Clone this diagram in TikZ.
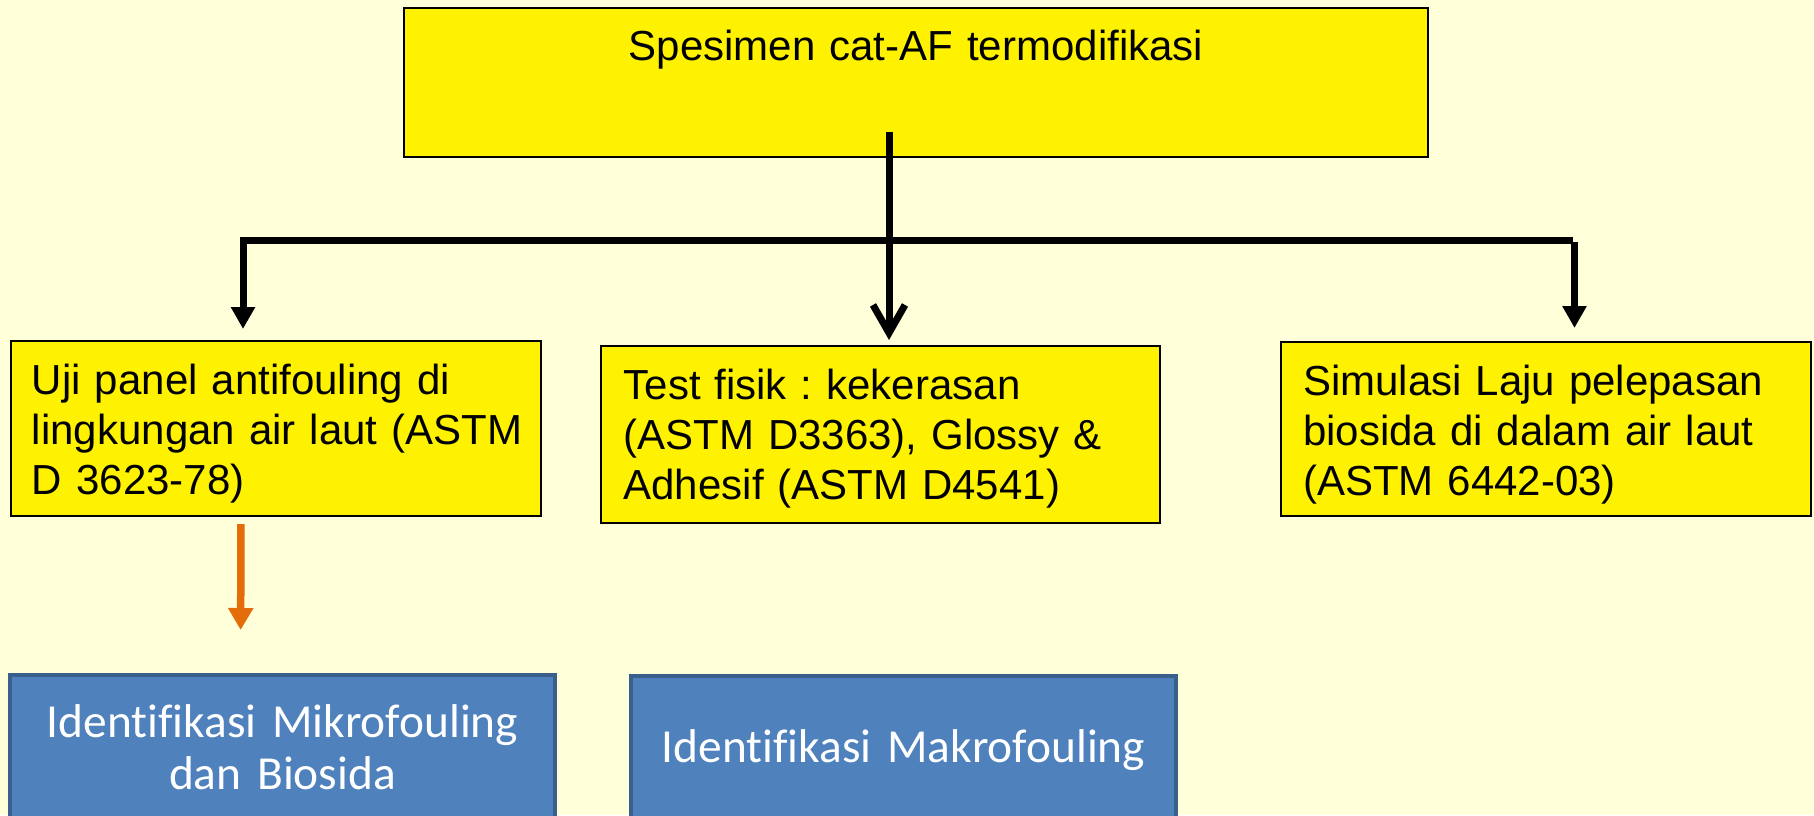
\documentclass[tikz,border=0pt]{standalone}
\usepackage{fontspec}
\setmainfont{Liberation Sans}[Ligatures=NoCommon]
\newfontfamily\calibrifont{Carlito}[Ligatures=NoCommon]
\usetikzlibrary{arrows.meta}
\frenchspacing

\definecolor{bgyellow}{HTML}{FFFFDA}
\definecolor{boxblue}{HTML}{4F81BD}
\definecolor{edgeblue}{HTML}{3A5F8B}
\definecolor{arroworange}{HTML}{E46C0A}

\begin{document}
\begin{tikzpicture}[x=0.5pt,y=-0.5pt,
	ybox/.style={draw=black,line width=1pt,fill=yellow,anchor=north west,align=left,
		font=\fontsize{21}{25}\selectfont,inner ysep=0pt,text height=26.5pt},
	bbox/.style={draw=edgeblue,line width=2pt,fill=boxblue,text=white,anchor=north west,align=center,
		font=\calibrifont\fontsize{23.7}{26}\selectfont,inner xsep=0pt,inner ysep=0pt,text width=272.5pt},
	conn/.style={line width=3.5pt},
	tri/.style={-{Triangle[length=11pt,width=11.5pt]}}
	]
	
	\clip (0,0) rectangle (1814,815);
	\fill[bgyellow] (0,0) rectangle (1814,815);
	
	\node[ybox,align=center,inner xsep=0pt,text width=512pt,text height=26pt,text depth=48.5pt] (spesimen) at (403,7) {Spesimen cat-AF termodifikasi};
	
	\node[ybox,inner xsep=10.5pt,text width=244pt,text depth=61pt] (uji) at (10,340)
	{Uji panel antifouling di\\lingkungan~air~laut~(ASTM\\D 3623-78)};
	\node[ybox,inner xsep=11.3pt,text width=256.9pt,text depth=62pt] (test) at (600,345)
	{Test fisik : kekerasan\\(ASTM D3363), Glossy \&\\Adhesif (ASTM D4541)};
	\node[ybox,inner xsep=11pt,text width=243pt,text depth=60.5pt] (sim) at (1280,341)
	{Simulasi Laju pelepasan\\biosida di dalam air laut\\(ASTM 6442-03)};
	
	\node[bbox,text height=31pt,text depth=80pt] (mikro) at (8,673) {Identifikasi Mikrofouling\\dan Biosida};
	\node[bbox,text height=43pt,text depth=70pt] (makro) at (629,674) {Identifikasi Makrofouling};
	
	\coordinate (hubL) at (243,240);
	\coordinate (hubR) at (1573,240);
	
	\draw[conn,-{Straight Barb[length=14pt,width=16pt]},shorten <=-13pt,shorten >=2.5pt]
	([xshift=-13.5pt]spesimen.south) -- ([xshift=-13.5pt]spesimen.south |- test.north);
	\draw[conn,tri,shorten >=5.5pt] (hubR) -- (hubL) -- (hubL |- uji.north);
	\draw[conn,tri,shorten >=6.5pt] ([shift={(1.5,2)}]hubR) -- ([xshift=0.75pt]hubR |- sim.north);
	
	\draw[arroworange,line width=3.75pt,-{Triangle[length=11pt,width=12pt]},shorten <=3.5pt,shorten >=21.5pt]
	([xshift=-17.5pt]uji.south) -- ([xshift=-21pt]mikro.north);
\end{tikzpicture}
\end{document}
